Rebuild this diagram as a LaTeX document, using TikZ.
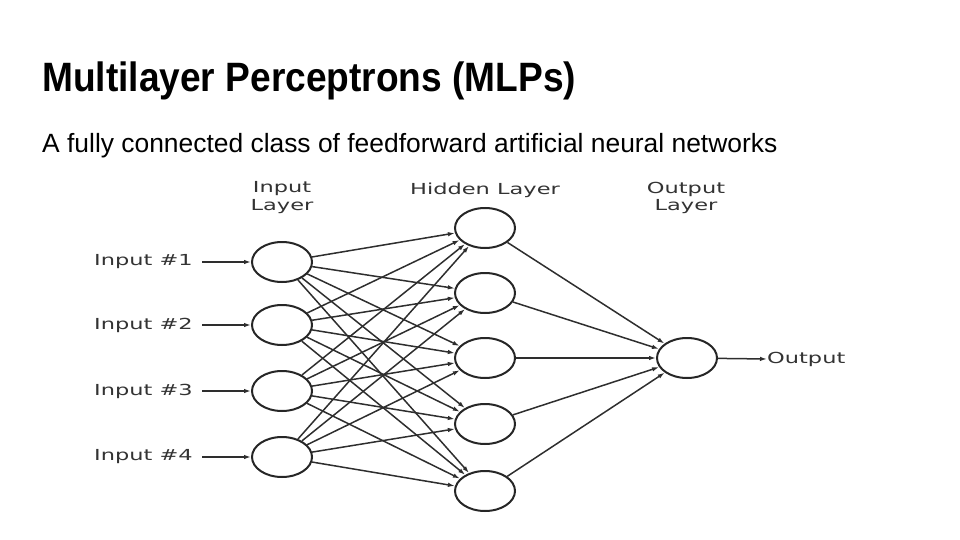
\documentclass[tikz,border=0pt]{standalone}
\usepackage{fontspec}
\setmainfont{Liberation Sans}
\newfontfamily\diagfont{DejaVu Sans}
\usetikzlibrary{arrows.meta,shapes.geometric}
\newcommand{\wide}[1]{\scalebox{1.48}[1]{#1}}
\begin{document}
\begin{tikzpicture}[x=1pt,y=-1pt,
  neuron/.style={draw=black!85,line width=2pt,ellipse,minimum width=60pt,minimum height=40pt,inner sep=0pt},
  lbl/.style={font=\diagfont\fontsize{15.2}{18}\selectfont,text=black!80,inner sep=0pt},
  conn/.style={draw=black!82,line width=1.5pt,-{Latex[length=7pt,width=4.5pt]}},
  title/.style={font=\bfseries\fontsize{41}{46}\selectfont,anchor=base west,inner sep=0pt},
  sub/.style={font=\fontsize{26.4}{30}\selectfont,anchor=base west,inner sep=0pt}]
\useasboundingbox (0,0) rectangle (960,540);
\node[title] (t) at (42,92) {\scalebox{0.905}[1]{Multilayer Perceptrons (MLPs)}};
\node[sub] (s) at (42,153) {A fully connected class of feedforward artificial neural networks};
% input layer
\foreach \i/\y in {1/262,2/325,3/391,4/457}{
  \node[neuron] (i\i) at (282,\y) {};
  \node[lbl,anchor=east] (il\i) at (193,\y) {\wide{Input \#\i}};
  \coordinate (ia\i) at (202,\y);
  \draw[conn] (ia\i) -- (i\i);
}
\foreach \j/\y in {1/228,2/293,3/358,4/424,5/491}{
  \node[neuron] (h\j) at (485,\y) {};
}
\node[neuron] (o) at (687,358) {};
\node[lbl,anchor=west] (ol) at (767,359) {\wide{Output}};
\draw[conn] (o) -- (ol.west);
\foreach \i in {1,...,4}{
  \foreach \j in {1,...,5}{
    \draw[conn] (i\i) -- (h\j);
  }
}
\foreach \j in {1,...,5}{
  \draw[conn] (h\j) -- (o);
}
\node[lbl] (lin1) at (282,189) {\wide{Input}};
\node[lbl] (lin2) at (282,207) {\wide{Layer}};
\node[lbl] (lhid) at (485,190) {\wide{Hidden Layer}};
\node[lbl] (lout1) at (686,189) {\wide{Output}};
\node[lbl] (lout2) at (686,207) {\wide{Layer}};
\end{tikzpicture}
\end{document}
